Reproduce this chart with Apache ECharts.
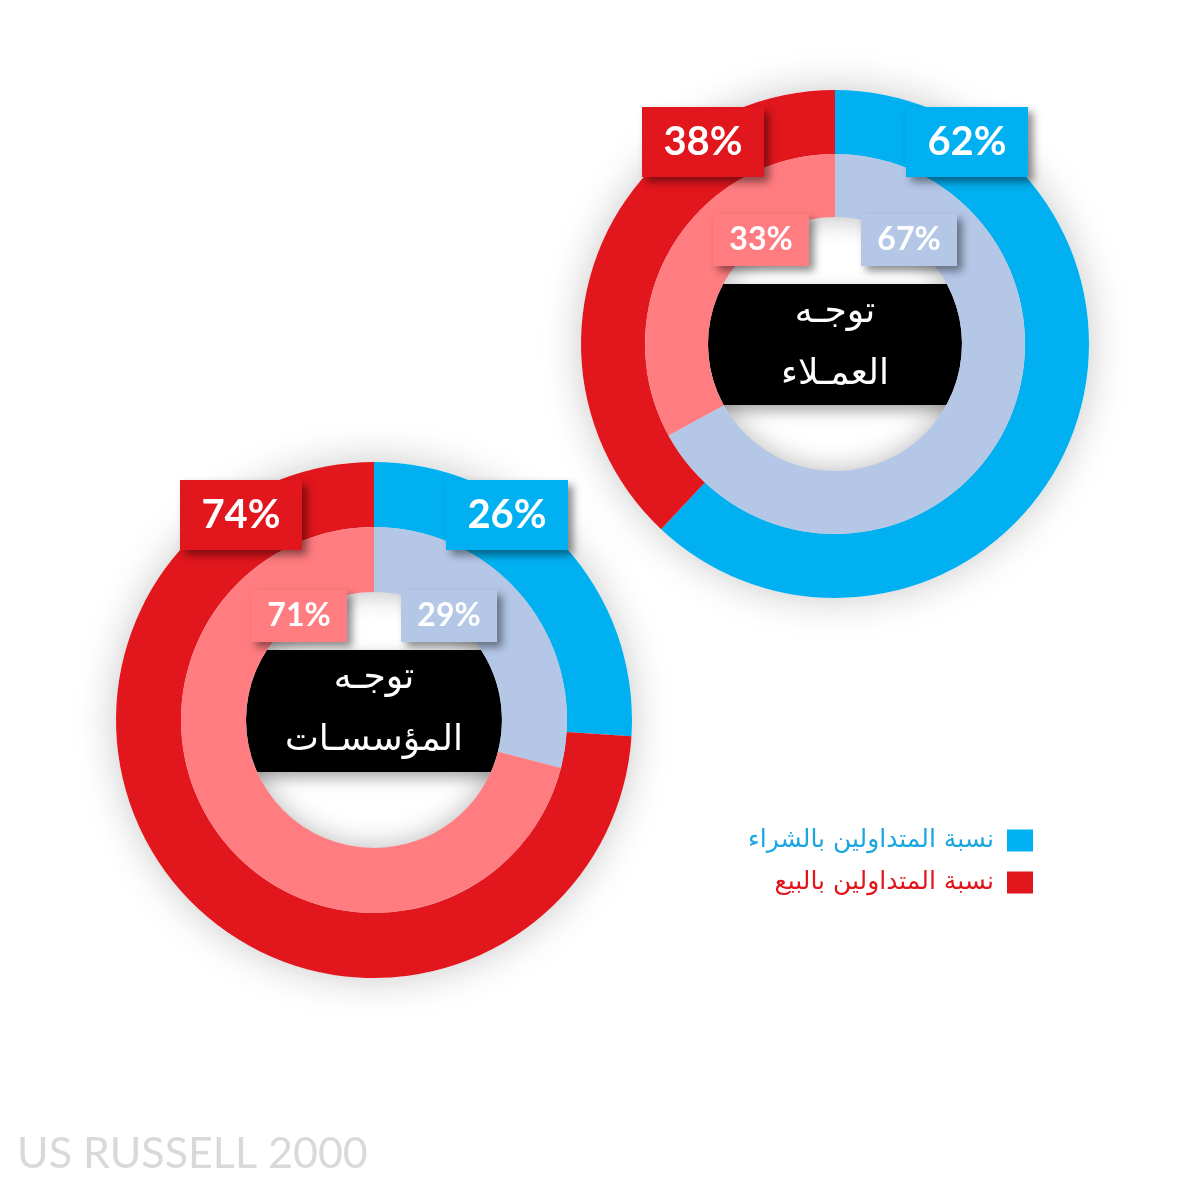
<!DOCTYPE html>
<html><head><meta charset="utf-8">
<script src="https://cdn.jsdelivr.net/npm/echarts@6/dist/echarts.min.js"></script>
<style>html,body{margin:0;padding:0;background:#fff}#c{width:1181px;height:1181px}</style>
</head><body><div id="c"></div>
<script>
// ---- data ----
const segments = ['نسبة المتداولين بالشراء', 'نسبة المتداولين بالبيع'];
const clientsOuter = [62, 38];
const clientsInner = [67, 33];
const instOuter = [26, 74];
const instInner = [29, 71];
const centerTitles = ['توجـه\nالعمـلاء', 'توجـه\nالمؤسسـات'];
const footerText = 'US RUSSELL 2000';

// ---- style ----
const BLUE = '#00B0F0', RED = '#E2161D', LBLUE = '#B4C7E7', PINK = '#FF7C80';
const outerColors = [BLUE, RED];
const innerColors = [LBLUE, PINK];

const chart = echarts.init(document.getElementById('c'), null, {renderer: 'canvas'});

function donut(cfg) {
  const cx = cfg.center[0], cy = cfg.center[1];
  const series = [];
  // outer glow ring
  series.push({
    type: 'pie', silent: true, animation: false, startAngle: 90,
    center: cfg.center, radius: [cfg.r1, cfg.r2],
    label: {show: false}, labelLine: {show: false},
    itemStyle: {color: '#fff', shadowBlur: 40, shadowColor: 'rgba(0,0,0,0.22)'},
    data: [{value: 1, name: '__glow'}]
  });
  // inner shadow ring (casts into the hole)
  series.push({
    type: 'pie', silent: true, animation: false, startAngle: 90,
    center: cfg.center, radius: [cfg.r0, cfg.r1],
    label: {show: false}, labelLine: {show: false},
    itemStyle: {color: '#ddd', shadowBlur: 28, shadowColor: 'rgba(0,0,0,0.28)'},
    data: [{value: 1, name: '__shadow'}]
  });
  const mk = (vals, colors, radius, off, box, fs) => ({
    type: 'pie', silent: true, animation: false, startAngle: 90, clockwise: true,
    center: cfg.center, radius: radius,
    labelLine: {show: false},
    label: {
      show: true, position: 'inside', formatter: '{c}%',
      color: '#fff', fontFamily: 'Lato', fontWeight: 'bold', fontSize: fs,
      width: box[0], height: box[1], lineHeight: box[1],
      align: 'center', verticalAlign: 'middle',
      shadowBlur: 8, shadowColor: 'rgba(0,0,0,0.45)', shadowOffsetX: 5, shadowOffsetY: 5
    },
    labelLayout: function (p) {
      const sx = p.dataIndex === 0 ? 1 : -1;
      return {x: cx + sx * off[0], y: cy + off[1], align: 'center', verticalAlign: 'middle'};
    },
    data: vals.map((v, i) => ({
      value: v, name: segments[i],
      itemStyle: {color: colors[i]},
      label: {backgroundColor: colors[i]}
    }))
  });
  series.push(mk(cfg.outer, outerColors, [cfg.r1, cfg.r2], cfg.outerOff, [122, 70], 40));
  series.push(mk(cfg.inner, innerColors, [cfg.r0, cfg.r1], cfg.innerOff, [96, 52], 32));
  const graphics = [
    {type: 'rect', z: 1, silent: true,
     shape: {x: cx - cfg.r0, y: cy + cfg.band[0], width: cfg.r0 * 2, height: cfg.band[1] - cfg.band[0]},
     style: {fill: '#000', shadowBlur: 14, shadowColor: 'rgba(0,0,0,0.35)', shadowOffsetY: 6}},
    {type: 'text', z: 10, silent: true, x: cx, y: cy + cfg.textDy,
     style: {text: cfg.title, fill: '#fff', font: '36px "DejaVu Sans"', align: 'center', verticalAlign: 'middle', lineHeight: 62}}
  ];
  return {series, graphics};
}

const d1 = donut({center: [835, 344], r0: 127, r1: 190, r2: 254,
  outer: clientsOuter, inner: clientsInner, outerOff: [132, -202], innerOff: [74, -104],
  band: [-60, 61], textDy: 0, title: centerTitles[0]});
const d2 = donut({center: [374, 720], r0: 128, r1: 193, r2: 258,
  outer: instOuter, inner: instInner, outerOff: [133, -205], innerOff: [75, -104],
  band: [-70, 52], textDy: -10, title: centerTitles[1]});

chart.setOption({
  backgroundColor: '#fff',
  animation: false,
  title: {text: footerText, left: 12, top: 1128,
    textStyle: {fontSize: 43, fontWeight: 'normal', color: '#D9D9D9', fontFamily: 'Lato'}},
  legend: {
    orient: 'vertical', right: 143, top: 823, align: 'right', icon: 'rect',
    itemWidth: 26, itemHeight: 22, itemGap: 17, selectedMode: false,
    textStyle: {fontSize: 25, fontFamily: 'DejaVu Sans', padding: [0, 8, 0, 0]},
    data: [
      {name: segments[0], itemStyle: {color: BLUE}, textStyle: {color: '#1AA6DF'}},
      {name: segments[1], itemStyle: {color: RED}, textStyle: {color: '#E1161C'}}
    ]
  },
  graphic: d1.graphics.concat(d2.graphics),
  series: d1.series.concat(d2.series)
});
</script></body></html>
